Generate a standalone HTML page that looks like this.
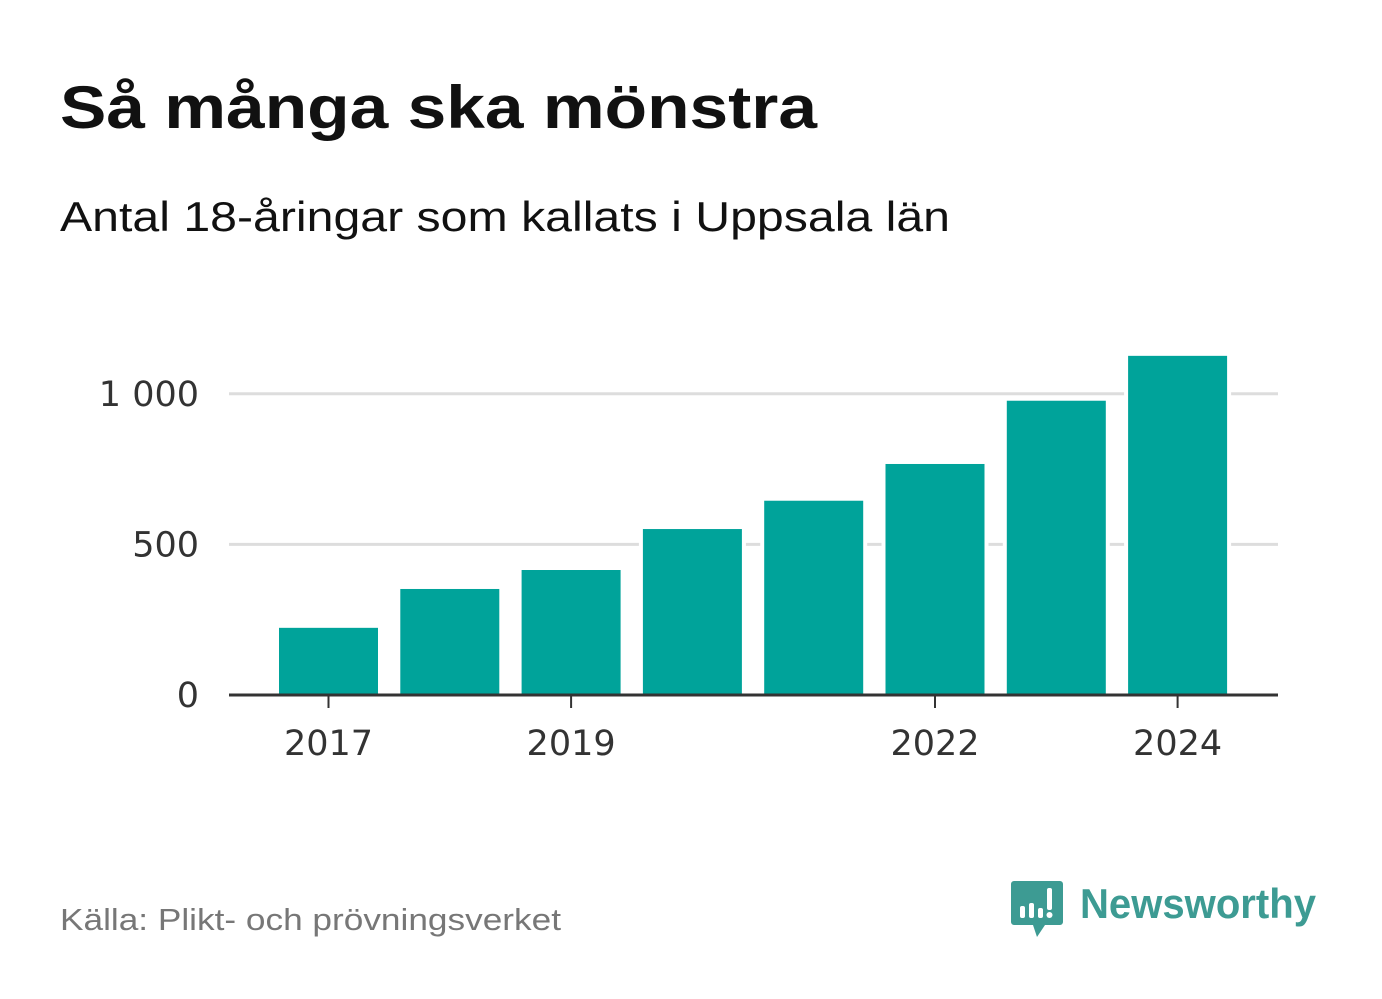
<!DOCTYPE html>
<html><head><meta charset="utf-8"><style>
body{margin:0;background:#fff;font-family:"Liberation Sans",sans-serif}
svg{display:block}
</style></head><body>
<svg width="1382" height="999">
<text x="60" y="128" font-size="60" font-weight="bold" fill="#111" textLength="757" lengthAdjust="spacingAndGlyphs">Så många ska mönstra</text>
<text x="60" y="231" font-size="42" fill="#111" textLength="890" lengthAdjust="spacingAndGlyphs">Antal 18-åringar som kallats i Uppsala län</text>
<g id="grid"></g><g id="bars"></g><g id="axes"></g>
<text x="60" y="930" font-size="31" fill="#777" textLength="501" lengthAdjust="spacingAndGlyphs">Källa: Plikt- och prövningsverket</text>
<g>
<path d="M1014 881 h46 a3 3 0 0 1 3 3 v38 a3 3 0 0 1 -3 3 h-15 l-8 12 l-4 -12 h-19 a3 3 0 0 1 -3 -3 v-38 a3 3 0 0 1 3 -3z" fill="#3d9b93"/>
<rect x="1020" y="906" width="5" height="12" rx="2" fill="#fff"/><rect x="1029" y="903" width="5" height="15" rx="2" fill="#fff"/><rect x="1038" y="908" width="5" height="10" rx="2" fill="#fff"/><rect x="1047" y="888" width="5" height="22" rx="2" fill="#fff"/><circle cx="1049.5" cy="915" r="3" fill="#fff"/>
<text x="1080" y="918" font-size="42" font-weight="bold" fill="#3d9b93" textLength="236" lengthAdjust="spacingAndGlyphs">Newsworthy</text>
</g>
</svg>
<script>
const years=[2017,2018,2019,2020,2021,2022,2023,2024];
const values=[223,352,415,551,645,767,977,1126];
const yTicks=[0,500,1000];
const yTickLabels=["0","500","1 000"];
const xTickYears=[2017,2019,2022,2024];
const NS="http://www.w3.org/2000/svg";
const y0=695,k=0.3012,x0=328.5,step=121.3,bw=99;
const yS=v=>y0-v*k, xS=yr=>x0+(yr-2017)*step;
function mk(t,a,p){const e=document.createElementNS(NS,t);for(const n in a)e.setAttribute(n,a[n]);p.appendChild(e);return e;}
const grid=document.getElementById('grid'),bars=document.getElementById('bars'),axes=document.getElementById('axes');
yTicks.forEach((v,i)=>{
 if(v>0){const l=mk('line',{x1:229,x2:1278,y1:yS(v),y2:yS(v),stroke:'#ddd','stroke-width':3},grid);
 
 }
 const t=mk('text',{x:199,y:yS(v)+12,'text-anchor':'end','font-size':35,fill:'#333','font-family':'"DejaVu Sans",sans-serif'},axes);t.textContent=yTickLabels[i];
 
 
});
years.forEach((yr,i)=>{
 const x=xS(yr)-bw/2,y=yS(values[i]);
 mk('rect',{x:x-4,y:y-4,width:bw+8,height:y0-y+4,fill:'#fff'},bars);
 const r=mk('rect',{x:x,y:y,width:bw,height:y0-y,fill:'#00a39a'},bars);
 
 
});
const ax=mk('line',{x1:229,x2:1278,y1:y0,y2:y0,stroke:'#333','stroke-width':3},axes);


xTickYears.forEach(yr=>{
 mk('line',{x1:xS(yr),x2:xS(yr),y1:y0,y2:y0+13,stroke:'#333','stroke-width':2},axes);
 const t=mk('text',{x:xS(yr),y:755,'text-anchor':'middle','font-size':35,fill:'#333','font-family':'"DejaVu Sans",sans-serif'},axes);t.textContent=yr;
 
 
});
</script>
</body></html>
